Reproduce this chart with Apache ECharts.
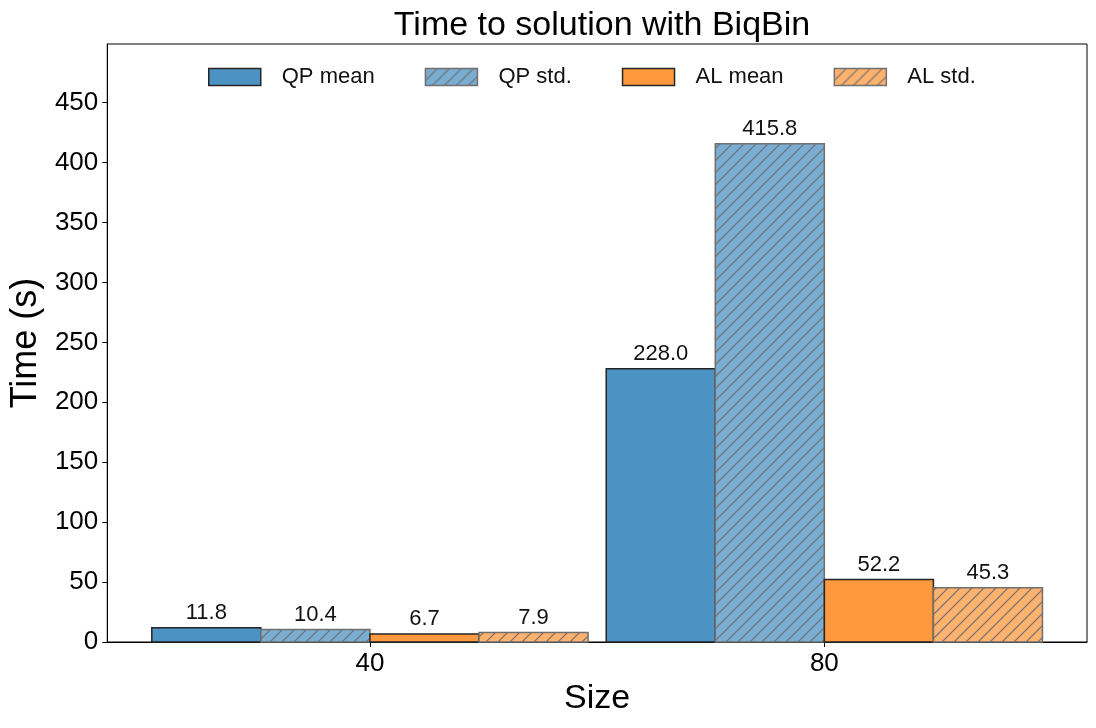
<!DOCTYPE html>
<html>
<head>
<meta charset="utf-8">
<script src="https://cdn.jsdelivr.net/npm/echarts@6/dist/echarts.min.js"></script>
<style>
html,body{margin:0;padding:0;background:#fff;}
#chart{width:1096px;height:728px;}
</style>
</head>
<body>
<div id="chart"></div>
<script>
var categories = ['40', '80'];
var seriesNames = ['QP mean', 'QP std.', 'AL mean', 'AL std.'];
var qpMean = [11.8, 228.0];
var qpStd = [10.4, 415.8];
var alMean = [6.7, 52.2];
var alStd = [7.9, 45.3];
var yTicks = [0, 50, 100, 150, 200, 250, 300, 350, 400, 450];
var xTickPositions = [0, 1];

var FONT = '"Liberation Sans", Arial, sans-serif';
var BLUE_MEAN = '#4c92c3';
var BLUE_STD = '#79add2';
var ORANGE_MEAN = '#ff993e';
var ORANGE_STD = '#ffb26e';
var EDGE_MEAN = '#262626';
var EDGE_STD = '#707070';

function hatch(bg) {
  var s = 12;
  var c = document.createElement('canvas');
  c.width = s; c.height = s;
  var ctx = c.getContext('2d');
  ctx.fillStyle = bg;
  ctx.fillRect(0, 0, s, s);
  ctx.strokeStyle = '#6e6e6e';
  ctx.lineWidth = 1.2;
  ctx.beginPath();
  ctx.moveTo(-2, s + 2); ctx.lineTo(s + 2, -2);
  ctx.moveTo(-2, 2); ctx.lineTo(2, -2);
  ctx.moveTo(s - 2, s + 2); ctx.lineTo(s + 2, s - 2);
  ctx.stroke();
  return { image: c, repeat: 'repeat' };
}

var styles = [
  { fill: BLUE_MEAN, stroke: EDGE_MEAN },
  { fill: hatch(BLUE_STD), stroke: EDGE_STD },
  { fill: ORANGE_MEAN, stroke: EDGE_MEAN },
  { fill: hatch(ORANGE_STD), stroke: EDGE_STD }
];
var values = [qpMean, qpStd, alMean, alStd];
var BAR_W = 0.24;

function makeSeries(idx) {
  var st = styles[idx];
  return {
    name: seriesNames[idx],
    type: 'custom',
    encode: { x: 0, y: 1 },
    itemStyle: { color: st.fill, borderColor: st.stroke },
    data: values[idx].map(function (v, i) { return [i, v]; }),
    renderItem: function (params, api) {
      var cx = api.value(0) + (idx - 1.5) * BAR_W;
      var v = api.value(1);
      var p1 = api.coord([cx - BAR_W / 2, v]);
      var p2 = api.coord([cx + BAR_W / 2, 0]);
      return {
        type: 'rect',
        shape: { x: p1[0], y: p1[1], width: p2[0] - p1[0], height: p2[1] - p1[1] },
        style: { fill: st.fill, stroke: st.stroke, lineWidth: 1.5 },
        textContent: {
          style: {
            text: v.toFixed(1),
            fill: '#111',
            font: '22px ' + FONT
          }
        },
        textConfig: { position: 'top', distance: 3 }
      };
    }
  };
}

var chart = echarts.init(document.getElementById('chart'), null, { renderer: 'canvas' });
chart.setOption({
  animation: false,
  backgroundColor: '#fff',
  title: {
    text: 'Time to solution with BiqBin',
    left: 597,
    textAlign: 'center',
    top: 4,
    textStyle: { fontFamily: FONT, fontSize: 34, fontWeight: 'normal', color: '#000' }
  },
  legend: {
    left: 208,
    top: 66,
    padding: 0,
    icon: 'rect',
    itemWidth: 52,
    itemHeight: 17,
    itemGap: 50,
    textStyle: { fontFamily: FONT, fontSize: 22, color: '#111', padding: [0, 0, 0, 16] },
    data: seriesNames.map(function (n, i) {
      return {
        name: n,
        itemStyle: { color: styles[i].fill, borderColor: styles[i].stroke, borderWidth: 1.5 }
      };
    })
  },
  grid: {
    left: 106, right: 9, top: 44, bottom: 86,
    show: true, borderColor: '#000', borderWidth: 1, backgroundColor: 'transparent'
  },
  xAxis: {
    type: 'value',
    min: -0.578,
    max: 1.578,
    name: 'Size',
    nameLocation: 'middle',
    nameGap: 38,
    nameTextStyle: { fontFamily: FONT, fontSize: 34, color: '#000' },
    axisLine: { show: true, onZero: false, lineStyle: { color: '#000', width: 1 } },
    axisTick: { show: true, length: 5, lineStyle: { color: '#000' }, customValues: xTickPositions },
    axisLabel: {
      customValues: xTickPositions,
      fontFamily: FONT, fontSize: 26, color: '#000', margin: 9,
      formatter: function (v) { return categories[Math.round(v)]; }
    },
    splitLine: { show: false }
  },
  yAxis: {
    type: 'value',
    min: 0,
    max: 499,
    name: 'Time (s)',
    nameLocation: 'middle',
    nameGap: 60,
    nameTextStyle: { fontFamily: FONT, fontSize: 36, color: '#000' },
    axisLine: { show: true, onZero: false, lineStyle: { color: '#000', width: 1 } },
    axisTick: { show: true, length: 5, lineStyle: { color: '#000' }, customValues: yTicks },
    axisLabel: {
      customValues: yTicks,
      fontFamily: FONT, fontSize: 26, color: '#000', margin: 9
    },
    splitLine: { show: false }
  },
  series: [makeSeries(0), makeSeries(1), makeSeries(2), makeSeries(3)]
});
</script>
</body>
</html>
